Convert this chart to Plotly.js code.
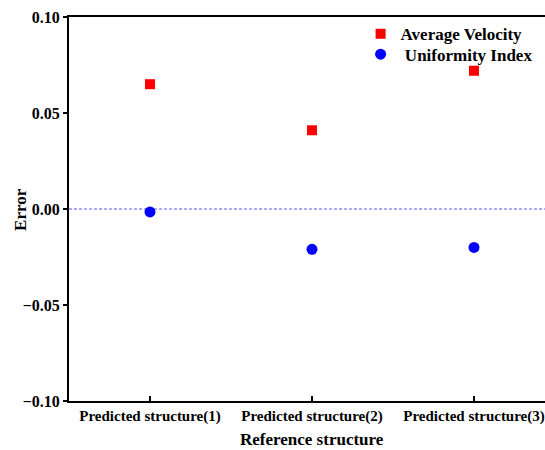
<!DOCTYPE html>
<html>
<head>
<meta charset="utf-8">
<script src="https://cdn.plot.ly/plotly-3.0.1.min.js"></script>
<style>html,body{margin:0;padding:0;overflow:hidden;background:#fff;}</style>
</head>
<body>
<div id="chart"></div>
<script>
const categories = ["Predicted structure(1)", "Predicted structure(2)", "Predicted structure(3)"];
const averageVelocity = [0.065, 0.041, 0.072];
const uniformityIndex = [-0.0015, -0.021, -0.020];
const yTicks = [-0.10, -0.05, 0.00, 0.05, 0.10];

const fam = "'Liberation Serif', 'Times New Roman', serif";
function f(size) { return {family: fam, size: size, color: "#000", weight: "bold"}; }

const traces = [
  {x: categories, y: averageVelocity, type: "scatter", mode: "markers", name: "Average Velocity",
   legend: "legend", marker: {symbol: "square", size: 10, color: "#ff0000"}},
  {x: categories, y: uniformityIndex, type: "scatter", mode: "markers", name: "\u00a0Uniformity Index",
   legend: "legend2", marker: {symbol: "circle", size: 11, color: "#0000ff"}}
];

const legBase = {xanchor: "left", yanchor: "middle", bgcolor: "rgba(0,0,0,0)", font: f(17), itemwidth: 30};

const layout = {
  width: 555, height: 450,
  margin: {l: 69, r: 0, t: 17, b: 49},
  paper_bgcolor: "#fff", plot_bgcolor: "#fff",
  font: f(14),
  showlegend: true,
  legend: Object.assign({x: 0.6, y: 0.955}, legBase),
  legend2: Object.assign({x: 0.6, y: 0.902}, legBase),
  xaxis: {
    type: "category", range: [-0.5, 2.5],
    showline: true, linecolor: "#000", linewidth: 2, mirror: true,
    ticks: "inside", ticklen: 5, tickwidth: 1.5, tickcolor: "#000",
    showgrid: false, zeroline: false,
    tickfont: f(15)
  },
  yaxis: {
    range: [-0.10, 0.10], tickvals: yTicks, tickformat: ".2f",
    showline: true, linecolor: "#000", linewidth: 2, mirror: true,
    ticks: "outside", ticklen: 4, tickwidth: 1.5, tickcolor: "#000",
    showgrid: false, zeroline: false,
    tickfont: f(16)
  },
  annotations: [
    {text: "Reference structure", xref: "paper", yref: "paper", x: 0.5, y: -0.099,
     xanchor: "center", yanchor: "middle", showarrow: false, font: f(17)},
    {text: "Error", xref: "paper", yref: "paper", x: -0.101, y: 0.5, textangle: -90,
     xanchor: "center", yanchor: "middle", showarrow: false, font: f(17)}
  ],
  shapes: [{type: "line", xref: "paper", x0: 0, x1: 1, yref: "y", y0: 0, y1: 0,
            line: {color: "#5a5aff", width: 1, dash: "3px,2px"}, layer: "below"}]
};

Plotly.newPlot("chart", traces, layout, {displayModeBar: false, staticPlot: true});
</script>
</body>
</html>
